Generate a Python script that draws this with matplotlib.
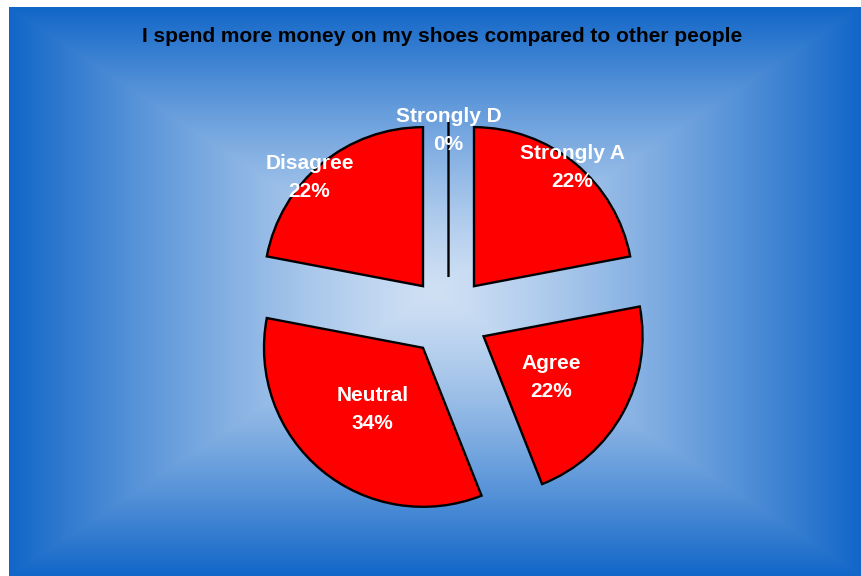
import numpy as np
import matplotlib
matplotlib.use("Agg")
import matplotlib.pyplot as plt

# ---- data ----
title = "I spend more money on my shoes compared to other people"
categories = ["Strongly A", "Agree", "Neutral", "Disagree", "Strongly D"]
values = [22, 22, 34, 22, 0]

W, H = 861, 576
fig = plt.figure(figsize=(W / 100, H / 100), dpi=100)
fig.patch.set_facecolor("white")

# background gradient (rectangular, from centre)
x0, x1, y0, y1 = 9, 861, 7, 576
bg = fig.add_axes([x0 / W, 1 - y1 / H, (x1 - x0) / W, (y1 - y0) / H])
nx, ny = 852, 569
xx = np.linspace(-1, 1, nx)
yy = np.linspace(-1, 1, ny)
X, Y = np.meshgrid(xx, yy)
t = np.maximum(np.abs(X), np.abs(Y)) ** 1.3
c_center = np.array([207, 224, 244]) / 255
c_edge = np.array([17, 102, 200]) / 255
img = c_center[None, None, :] * (1 - t[..., None]) + c_edge[None, None, :] * t[..., None]
bg.imshow(img, aspect="auto", interpolation="bilinear")
bg.set_axis_off()

# pie axes in pixel coordinates (y up)
ax = fig.add_axes([0, 0, 1, 1])
ax.patch.set_alpha(0)
cx, cy = 448.5, H - 317
radius = 159
expl = 40
wedges, _ = ax.pie(values, radius=radius, center=(cx, cy), startangle=90,
                   counterclock=False, explode=[expl] * len(values),
                   colors=["#ff0000"] * len(values),
                   wedgeprops=dict(edgecolor="black", linewidth=1.7, joinstyle="miter"),
                   normalize=True)
ax.set_xlim(0, W)
ax.set_ylim(0, H)
ax.set_aspect("equal")
ax.set_axis_off()

# labels (distance as fraction of radius, angular nudge in degrees)
label_dist = [0.97, 0.5, 0.5, 0.99, 0.92]
label_shift = [0, -2.5, 0, 6.5, 0]
total = sum(values)
for w, cat, v, d, s in zip(wedges, categories, values, label_dist, label_shift):
    th = np.deg2rad(0.5 * (w.theta1 + w.theta2) + s)
    wx, wy = w.center
    lx = wx + d * radius * np.cos(th)
    ly = wy + d * radius * np.sin(th)
    ax.text(lx, ly, f"{cat}\n{round(100 * v / total)}%", ha="center", va="center",
            color="white", fontsize=15, fontweight="bold", family="Liberation Sans",
            linespacing=1.6, multialignment="center")

fig.text(442 / W, 1 - 37 / H, title, ha="center", va="center", fontsize=15,
         fontweight="bold", family="Liberation Sans", color="black")

fig.savefig("out.png", dpi=100)
